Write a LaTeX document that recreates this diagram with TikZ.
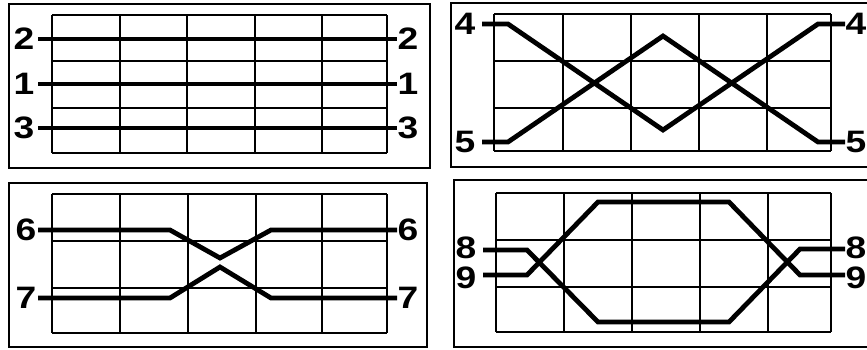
\documentclass[tikz,border=0pt]{standalone}
\usepackage{fontspec}
\setmainfont{Liberation Sans}
\newcommand{\lblfont}{\fontsize{31pt}{31pt}\selectfont\bfseries}
\begin{document}
\begin{tikzpicture}[x=1pt,y=-1pt,
  gridline/.style={line width=2.2pt},
  frameline/.style={line width=2.4pt},
  wire/.style={line width=4.8pt},
  lbl/.style={font=\lblfont, inner sep=0pt, xscale=1.2}]
\useasboundingbox (0,0) rectangle (867,349);
% frames
\draw[frameline] (9,4) rectangle (430,168);
\draw[frameline] (451,3) rectangle (880,167);
\draw[frameline] (9,183) rectangle (427,347);
\draw[frameline] (454,180) rectangle (880,347);
% grids
\foreach \xs/\ys in {{52,120,187,255,322,387}/{15,61,108,153},
                     {494,563,631,699,767,831}/{14,61,108,151},
                     {52,120,188,256,322,387}/{194,241,288,333},
                     {496,564,632,700,768,831}/{193,240,287,332}}{
  \foreach \x [count=\i] in \xs {\ifnum\i=1\xdef\xa{\x}\fi \xdef\xb{\x}}
  \foreach \y [count=\i] in \ys {\ifnum\i=1\xdef\ya{\y}\fi \xdef\yb{\y}}
  \foreach \x in \xs {\draw[gridline] (\x,\ya) -- (\x,\yb);}
  \foreach \y in \ys {\draw[gridline] (\xa,\y) -- (\xb,\y);}
}
% panel 1
\node[lbl] (l2) at (24,39) {2};  \node[lbl] (r2) at (408,39) {2};
\node[lbl] (l1) at (24,84) {1};  \node[lbl] (r1) at (408,84) {1};
\node[lbl] (l3) at (24,128) {3}; \node[lbl] (r3) at (408,128) {3};
\coordinate (a2) at (38,39);  \coordinate (b2) at (397,39);
\coordinate (a1) at (38,84);  \coordinate (b1) at (397,84);
\coordinate (a3) at (38,128); \coordinate (b3) at (397,128);
\draw[wire] (a2) -- (b2);
\draw[wire] (a1) -- (b1);
\draw[wire] (a3) -- (b3);
% panel 2
\node[lbl] (l4) at (465,24) {4};  \node[lbl] (r4) at (856,24) {4};
\node[lbl] (l5) at (465,142) {5}; \node[lbl] (r5) at (856,142) {5};
\coordinate (a4) at (482,24);  \coordinate (b4) at (845,24);
\coordinate (a5) at (482,142); \coordinate (b5) at (845,142);
\draw[wire] (a4) -- (508,24) -- (663,130) -- (818,24) -- (b4);
\draw[wire] (a5) -- (508,142) -- (663,36) -- (818,142) -- (b5);
% panel 3
\node[lbl] (l6) at (26,230) {6}; \node[lbl] (r6) at (408,230) {6};
\node[lbl] (l7) at (26,298) {7}; \node[lbl] (r7) at (408,298) {7};
\coordinate (a6) at (38,230); \coordinate (b6) at (397,230);
\coordinate (a7) at (38,298); \coordinate (b7) at (397,298);
\draw[wire] (a6) -- (170,230) -- (220,258) -- (271,230) -- (b6);
\draw[wire] (a7) -- (170,298) -- (220,267) -- (271,298) -- (b7);
% panel 4
\node[lbl] (l8) at (466,248) {8}; \node[lbl] (r8) at (856,248) {8};
\node[lbl] (l9) at (466,278) {9}; \node[lbl] (r9) at (856,278) {9};
\coordinate (a8) at (483,250); \coordinate (b8) at (845,249);
\coordinate (a9) at (483,275); \coordinate (b9) at (845,275);
\draw[wire] (a8) -- (527,250) -- (598,322) -- (729,322) -- (800,249) -- (b8);
\draw[wire] (a9) -- (527,275) -- (598,202) -- (729,202) -- (800,275) -- (b9);
\end{tikzpicture}
\end{document}
